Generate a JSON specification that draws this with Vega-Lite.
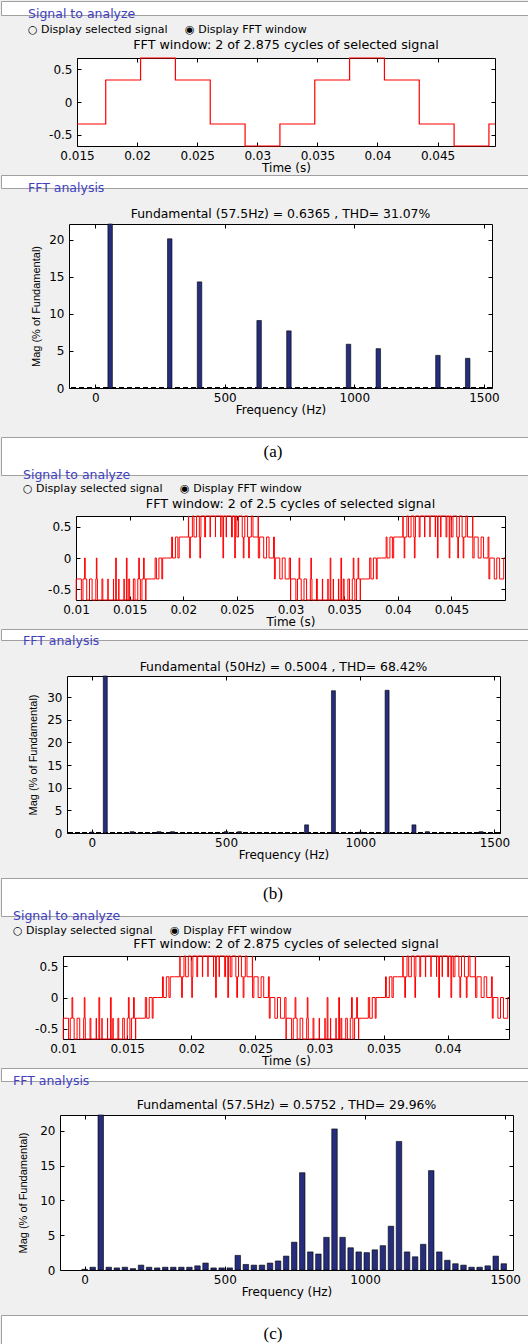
{
"$schema": "https://vega.github.io/schema/vega-lite/v6.json",
"padding": 0,
"background": "#f0f0f0",
"columns": 1,
"align": "none",
"spacing": 0,
"config": {
 "title": {"font": "DejaVu Sans", "fontWeight": "normal", "color": "#000000", "subtitleFont": "DejaVu Sans"},
 "axis": {"domain": false, "grid": false, "tickColor": "#000000", "tickSize": -4, "labelFont": "DejaVu Sans", "labelFontSize": 12, "labelColor": "#000000", "labelPadding": 8, "labelFlush": false, "labelOverlap": false, "titleFont": "DejaVu Sans", "titleFontSize": 12, "titleFontWeight": "normal", "titleColor": "#000000", "titlePadding": 1},
 "axisY": {"labelPadding": 9}
},
"concat": [
 {"width": 544, "height": 14, "view": {"fill": "white", "stroke": "#a0a0a0"}, "data": {"values": [{"label": ""}]}, "mark": {"type": "text"}, "encoding": {"text": {"field": "label"}},
  "title": {"text": "Signal to analyze", "subtitle": "○ Display selected signal\u00a0\u00a0\u00a0\u00a0 ◉ Display FFT window", "orient": "bottom", "anchor": "start", "frame": "group", "offset": -7, "dx": 27, "fontSize": 12.5, "color": "#4040c0", "subtitleFontSize": 11, "subtitleColor": "#000000", "subtitlePadding": 3}},
 {"spacing": 0, "hconcat": [
 {"width": 45, "height": 1, "view": {"fill": null, "stroke": null}, "data": {"values": [{"label": ""}]}, "mark": {"type": "text"}, "encoding": {"text": {"field": "label"}}},
 {"width": 418, "height": 88, "view": {"fill": "white", "stroke": "#000000"},
  "title": {"text": ["", "FFT window: 2 of 2.875 cycles of selected signal"], "lineHeight": 3, "fontSize": 12.7, "offset": 4, "frame": "group"},
  "data": {"values": [
   {"t":0.015,"v":-0.3333},{"t":0.017391,"v":0.3333},{"t":0.02029,"v":0.6667},{"t":0.023188,"v":0.3333},{"t":0.026087,"v":-0.3333},{"t":0.028986,"v":-0.6667},{"t":0.031884,"v":-0.3333},{"t":0.034783,"v":0.3333},{"t":0.037681,"v":0.6667},{"t":0.04058,"v":0.3333},{"t":0.043478,"v":-0.3333},{"t":0.046377,"v":-0.6667},{"t":0.049275,"v":-0.3333},{"t":0.04978,"v":-0.3333}]},
  "layer": [
   {"mark": {"type": "line", "interpolate": "step-after", "color": "#ff0000", "strokeWidth": 1.2, "clip": false},
    "encoding": {"x": {"field": "t", "type": "quantitative", "scale": {"domain": [0.015, 0.04978], "nice": false, "zero": false}, "axis": {"values": [0.015,0.02,0.025,0.03,0.035,0.04,0.045], "format": ".3~f", "title": "Time (s)"}},
                 "y": {"field": "v", "type": "quantitative", "scale": {"domain": [-0.6667, 0.6667], "nice": false, "zero": false}, "axis": {"values": [-0.5,0,0.5], "format": ".1~f", "labelExpr": "replace(datum.label, '\u2212', '-')", "title": null, "minExtent": 30, "maxExtent": 30}}}},
   {"mark": {"type": "line", "opacity": 0},
    "encoding": {"x": {"field": "t", "type": "quantitative", "axis": {"orient": "top", "values": [0.015,0.02,0.025,0.03,0.035,0.04,0.045], "labels": false, "title": null, "minExtent": 0, "maxExtent": 0}},
                 "y": {"field": "v", "type": "quantitative", "axis": {"orient": "right", "values": [-0.5,0,0.5], "labels": false, "title": null, "minExtent": 0, "maxExtent": 0}}}}
  ],
  "resolve": {"axis": {"x": "independent", "y": "independent"}}}]},
 {"width": 544, "height": 13, "view": {"fill": "white", "stroke": "#a0a0a0"}, "data": {"values": [{"label": ""}]}, "mark": {"type": "text"}, "encoding": {"text": {"field": "label"}},
  "title": {"text": "FFT analysis", "orient": "bottom", "anchor": "start", "frame": "group", "offset": -6, "dx": 27, "fontSize": 12.5, "color": "#4040c0"}},
 {"spacing": 0, "hconcat": [
 {"width": 22, "height": 1, "view": {"fill": null, "stroke": null}, "data": {"values": [{"label": ""}]}, "mark": {"type": "text"}, "encoding": {"text": {"field": "label"}}},
 {"width": 423, "height": 164, "view": {"fill": "white", "stroke": "#000000"},
  "title": {"text": ["", "Fundamental (57.5Hz) = 0.6365 , THD= 31.07%"], "lineHeight": 12, "fontSize": 12.4, "offset": 1, "frame": "group"},
  "data": {"values": [
   {"f":57.5,"m":100},{"f":287.5,"m":20.1},{"f":402.5,"m":14.3},{"f":632.5,"m":9.1},{"f":747.5,"m":7.7},{"f":977.5,"m":5.9},{"f":1092.5,"m":5.3},{"f":1322.5,"m":4.4},{"f":1437.5,"m":4.0}]},
  "layer": [
   {"mark": {"type": "rule", "strokeDash": [5, 3], "strokeWidth": 1.5, "color": "#000000"}, "encoding": {"y": {"datum": 0, "axis": null}}},
   {"mark": {"type": "bar", "width": 4.5, "color": "#252d7c", "stroke": "#000000", "strokeWidth": 0.6},
    "encoding": {"x": {"field": "f", "type": "quantitative", "scale": {"domain": [-82, 1512], "nice": false, "zero": false}, "axis": {"values": [0,500,1000,1500], "format": "d", "title": "Frequency (Hz)"}},
                 "y": {"field": "m", "type": "quantitative", "scale": {"domain": [0, 22.1], "nice": false, "clamp": true}, "axis": {"values": [0,5,10,15,20], "title": "Mag (% of Fundamental)", "titleFont": "Liberation Sans", "titleFontSize": 11, "titleX": -27.5, "minExtent": 45, "maxExtent": 45}}}},
   {"mark": {"type": "point", "opacity": 0},
    "encoding": {"x": {"field": "f", "type": "quantitative", "axis": {"orient": "top", "values": [0,500,1000,1500], "labels": false, "title": null, "minExtent": 0, "maxExtent": 0}},
                 "y": {"field": "m", "type": "quantitative", "axis": {"orient": "right", "values": [0,5,10,15,20], "labels": false, "title": null, "minExtent": 0, "maxExtent": 0}}}}
  ],
  "resolve": {"axis": {"x": "independent", "y": "independent"}}}]},
 {"width": 10, "height": 20, "view": {"fill": null, "stroke": null}, "data": {"values": [{"label": ""}]}, "mark": {"type": "text"}, "encoding": {"text": {"field": "label"}}},
 {"width": 544, "height": 38, "view": {"fill": "white", "stroke": "#a0a0a0"}, "data": {"values": [{"label": "(a)"}]}, "mark": {"type": "text", "font": "Liberation Serif", "fontSize": 17, "dy": -4}, "encoding": {"text": {"field": "label"}},
  "title": {"text": "Signal to analyze", "subtitle": "○ Display selected signal\u00a0\u00a0\u00a0\u00a0 ◉ Display FFT window", "orient": "bottom", "anchor": "start", "frame": "group", "offset": -6, "dx": 22, "fontSize": 12.5, "color": "#4040c0", "subtitleFontSize": 11, "subtitleColor": "#000000", "subtitlePadding": 1}},
 {"spacing": 0, "hconcat": [
 {"width": 44, "height": 1, "view": {"fill": null, "stroke": null}, "data": {"values": [{"label": ""}]}, "mark": {"type": "text"}, "encoding": {"text": {"field": "label"}}},
 {"width": 429, "height": 84, "view": {"fill": "white", "stroke": "#000000"},
  "title": {"text": ["", "FFT window: 2 of 2.5 cycles of selected signal"], "lineHeight": 3, "fontSize": 12.7, "offset": 3, "frame": "group"},
  "data": {"values": [
   {"t":0.01,"v":-0.667},{"t":0.01002,"v":-0.333},
   {"t":0.0105,"v":-0.667},{"t":0.01065,"v":-0.333},{"t":0.0108,"v":0},{"t":0.01086,"v":-0.333},
   {"t":0.011,"v":-0.667},{"t":0.01126,"v":-0.333},
   {"t":0.0115,"v":-0.667},{"t":0.01185,"v":-0.333},{"t":0.0119,"v":0},{"t":0.01195,"v":-0.333},
   {"t":0.012,"v":-0.667},{"t":0.01242,"v":-0.333},
   {"t":0.0125,"v":-0.667},{"t":0.01297,"v":-0.333},
   {"t":0.013,"v":-0.667},{"t":0.01349,"v":-0.333},
   {"t":0.0135,"v":-0.667},{"t":0.0137,"v":0},{"t":0.01376,"v":-0.667},{"t":0.01399,"v":-0.333},
   {"t":0.014,"v":-0.667},{"t":0.01447,"v":-0.333},
   {"t":0.0145,"v":-0.667},{"t":0.0147,"v":0},{"t":0.01476,"v":-0.667},{"t":0.01492,"v":-0.333},
   {"t":0.015,"v":-0.667},{"t":0.01535,"v":-0.333},
   {"t":0.0155,"v":-0.667},{"t":0.01576,"v":-0.333},{"t":0.01585,"v":0},{"t":0.01591,"v":-0.333},
   {"t":0.016,"v":-0.667},{"t":0.01615,"v":-0.333},{"t":0.0163,"v":0},{"t":0.01636,"v":-0.333},
   {"t":0.0165,"v":-0.667},{"t":0.01652,"v":-0.333},
   {"t":0.017,"v":-0.333},{"t":0.01738,"v":0},
   {"t":0.0175,"v":-0.333},{"t":0.01773,"v":0},
   {"t":0.018,"v":-0.333},{"t":0.01808,"v":0},
   {"t":0.0185,"v":0},{"t":0.01892,"v":0.333},
   {"t":0.019,"v":0},{"t":0.01927,"v":0.333},
   {"t":0.0195,"v":0},{"t":0.01962,"v":0.333},
   {"t":0.02,"v":0.333},{"t":0.02048,"v":0.667},
   {"t":0.0205,"v":0.333},{"t":0.0206,"v":0},{"t":0.02066,"v":0.333},{"t":0.02085,"v":0.667},
   {"t":0.021,"v":0.333},{"t":0.02124,"v":0.667},
   {"t":0.0215,"v":0.333},{"t":0.02155,"v":0},{"t":0.02161,"v":0.333},{"t":0.02165,"v":0.667},
   {"t":0.022,"v":0.333},{"t":0.02208,"v":0.667},
   {"t":0.0225,"v":0.333},{"t":0.02253,"v":0.667},
   {"t":0.023,"v":0.333},{"t":0.02301,"v":0.667},
   {"t":0.0235,"v":0.333},{"t":0.02351,"v":0.667},{"t":0.0237,"v":0},{"t":0.02376,"v":0.667},
   {"t":0.024,"v":0.333},{"t":0.02403,"v":0.667},
   {"t":0.0245,"v":0.333},{"t":0.02458,"v":0.667},{"t":0.0248,"v":0},{"t":0.02486,"v":0.667},
   {"t":0.025,"v":0.333},{"t":0.02515,"v":0.667},
   {"t":0.0255,"v":0.333},{"t":0.0256,"v":0},{"t":0.02566,"v":0.333},{"t":0.02574,"v":0.667},
   {"t":0.026,"v":0.333},{"t":0.0261,"v":0},{"t":0.02616,"v":0.333},{"t":0.02635,"v":0.667},
   {"t":0.0265,"v":0.333},{"t":0.02698,"v":0.667},
   {"t":0.027,"v":0},{"t":0.02712,"v":0.333},
   {"t":0.0275,"v":0},{"t":0.02777,"v":0.333},
   {"t":0.028,"v":0},{"t":0.02842,"v":0.333},
   {"t":0.0285,"v":-0.333},{"t":0.02858,"v":0},
   {"t":0.029,"v":-0.333},{"t":0.02923,"v":0},
   {"t":0.0295,"v":-0.333},{"t":0.02988,"v":0},
   {"t":0.03,"v":-0.667},{"t":0.03002,"v":-0.333},
   {"t":0.0305,"v":-0.667},{"t":0.03065,"v":-0.333},{"t":0.0308,"v":0},{"t":0.03086,"v":-0.333},
   {"t":0.031,"v":-0.667},{"t":0.03126,"v":-0.333},
   {"t":0.0315,"v":-0.667},{"t":0.03185,"v":-0.333},{"t":0.0319,"v":0},{"t":0.03195,"v":-0.333},
   {"t":0.032,"v":-0.667},{"t":0.03242,"v":-0.333},
   {"t":0.0325,"v":-0.667},{"t":0.03297,"v":-0.333},
   {"t":0.033,"v":-0.667},{"t":0.03349,"v":-0.333},
   {"t":0.0335,"v":-0.667},{"t":0.0337,"v":0},{"t":0.03376,"v":-0.667},{"t":0.03399,"v":-0.333},
   {"t":0.034,"v":-0.667},{"t":0.03447,"v":-0.333},
   {"t":0.0345,"v":-0.667},{"t":0.0347,"v":0},{"t":0.03476,"v":-0.667},{"t":0.03492,"v":-0.333},
   {"t":0.035,"v":-0.667},{"t":0.03535,"v":-0.333},
   {"t":0.0355,"v":-0.667},{"t":0.03576,"v":-0.333},{"t":0.03585,"v":0},{"t":0.03591,"v":-0.333},
   {"t":0.036,"v":-0.667},{"t":0.03615,"v":-0.333},{"t":0.0363,"v":0},{"t":0.03636,"v":-0.333},
   {"t":0.0365,"v":-0.667},{"t":0.03652,"v":-0.333},
   {"t":0.037,"v":-0.333},{"t":0.03738,"v":0},
   {"t":0.0375,"v":-0.333},{"t":0.03773,"v":0},
   {"t":0.038,"v":-0.333},{"t":0.03808,"v":0},
   {"t":0.0385,"v":0},{"t":0.03892,"v":0.333},
   {"t":0.039,"v":0},{"t":0.03927,"v":0.333},
   {"t":0.0395,"v":0},{"t":0.03962,"v":0.333},
   {"t":0.04,"v":0.333},{"t":0.04048,"v":0.667},
   {"t":0.0405,"v":0.333},{"t":0.0406,"v":0},{"t":0.04066,"v":0.333},{"t":0.04085,"v":0.667},
   {"t":0.041,"v":0.333},{"t":0.04124,"v":0.667},
   {"t":0.0415,"v":0.333},{"t":0.04155,"v":0},{"t":0.04161,"v":0.333},{"t":0.04165,"v":0.667},
   {"t":0.042,"v":0.333},{"t":0.04208,"v":0.667},
   {"t":0.0425,"v":0.333},{"t":0.04253,"v":0.667},
   {"t":0.043,"v":0.333},{"t":0.04301,"v":0.667},
   {"t":0.0435,"v":0.333},{"t":0.04351,"v":0.667},{"t":0.0437,"v":0},{"t":0.04376,"v":0.667},
   {"t":0.044,"v":0.333},{"t":0.04403,"v":0.667},
   {"t":0.0445,"v":0.333},{"t":0.04458,"v":0.667},{"t":0.0448,"v":0},{"t":0.04486,"v":0.667},
   {"t":0.045,"v":0.333},{"t":0.04515,"v":0.667},
   {"t":0.0455,"v":0.333},{"t":0.0456,"v":0},{"t":0.04566,"v":0.333},{"t":0.04574,"v":0.667},
   {"t":0.046,"v":0.333},{"t":0.0461,"v":0},{"t":0.04616,"v":0.333},{"t":0.04635,"v":0.667},
   {"t":0.0465,"v":0.333},{"t":0.04698,"v":0.667},
   {"t":0.047,"v":0},{"t":0.04712,"v":0.333},
   {"t":0.0475,"v":0},{"t":0.04777,"v":0.333},
   {"t":0.048,"v":0},{"t":0.04842,"v":0.333},
   {"t":0.0485,"v":-0.333},{"t":0.04858,"v":0},
   {"t":0.049,"v":-0.333},{"t":0.04923,"v":0},
   {"t":0.0495,"v":-0.333},{"t":0.04988,"v":0},
   {"t":0.05,"v":0}]},
  "layer": [
   {"mark": {"type": "line", "interpolate": "step-after", "color": "#ff0000", "strokeWidth": 1, "clip": false},
    "encoding": {"x": {"field": "t", "type": "quantitative", "scale": {"domain": [0.01, 0.05], "nice": false, "zero": false}, "axis": {"values": [0.01,0.015,0.02,0.025,0.03,0.035,0.04,0.045], "format": ".3~f", "title": "Time (s)"}},
                 "y": {"field": "v", "type": "quantitative", "scale": {"domain": [-0.667, 0.667], "nice": false, "zero": false}, "axis": {"values": [-0.5,0,0.5], "format": ".1~f", "labelExpr": "replace(datum.label, '\u2212', '-')", "title": null, "minExtent": 30, "maxExtent": 30}}}},
   {"mark": {"type": "line", "opacity": 0},
    "encoding": {"x": {"field": "t", "type": "quantitative", "axis": {"orient": "top", "values": [0.01,0.015,0.02,0.025,0.03,0.035,0.04,0.045], "labels": false, "title": null, "minExtent": 0, "maxExtent": 0}},
                 "y": {"field": "v", "type": "quantitative", "axis": {"orient": "right", "values": [-0.5,0,0.5], "labels": false, "title": null, "minExtent": 0, "maxExtent": 0}}}}
  ],
  "resolve": {"axis": {"x": "independent", "y": "independent"}}}]},
 {"width": 544, "height": 11, "view": {"fill": "white", "stroke": "#a0a0a0"}, "data": {"values": [{"label": ""}]}, "mark": {"type": "text"}, "encoding": {"text": {"field": "label"}},
  "title": {"text": "FFT analysis", "orient": "bottom", "anchor": "start", "frame": "group", "offset": -5, "dx": 22, "fontSize": 12.5, "color": "#4040c0"}},
 {"spacing": 0, "hconcat": [
 {"width": 20, "height": 1, "view": {"fill": null, "stroke": null}, "data": {"values": [{"label": ""}]}, "mark": {"type": "text"}, "encoding": {"text": {"field": "label"}}},
 {"width": 433, "height": 157, "view": {"fill": "white", "stroke": "#000000"},
  "title": {"text": ["", "Fundamental (50Hz) = 0.5004 , THD= 68.42%"], "lineHeight": 12, "fontSize": 12.4, "offset": 0, "frame": "group"},
  "data": {"values": [
   {"f":0,"m":0.2},{"f":50,"m":100},{"f":150,"m":0.3},{"f":250,"m":0.3},{"f":300,"m":0.3},{"f":500,"m":0.3},{"f":550,"m":0.3},{"f":800,"m":1.8},{"f":900,"m":31.4},{"f":1000,"m":0.2},{"f":1100,"m":31.5},{"f":1200,"m":1.8},{"f":1250,"m":0.3},{"f":1450,"m":0.3}]},
  "layer": [
   {"mark": {"type": "rule", "strokeDash": [5, 2], "strokeWidth": 1.5, "color": "#000000"}, "encoding": {"y": {"datum": 0, "axis": null}}},
   {"mark": {"type": "bar", "width": 4, "color": "#252d7c", "stroke": "#000000", "strokeWidth": 0.6},
    "encoding": {"x": {"field": "f", "type": "quantitative", "scale": {"domain": [-74, 1502], "nice": false, "zero": false}, "axis": {"values": [0,500,1000,1500], "format": "d", "title": "Frequency (Hz)"}},
                 "y": {"field": "m", "type": "quantitative", "scale": {"domain": [0, 34.65], "nice": false, "clamp": true}, "axis": {"values": [0,5,10,15,20,25,30], "title": "Mag (% of Fundamental)", "titleFont": "Liberation Sans", "titleFontSize": 11, "titleX": -29, "minExtent": 45, "maxExtent": 45}}}},
   {"mark": {"type": "point", "opacity": 0},
    "encoding": {"x": {"field": "f", "type": "quantitative", "axis": {"orient": "top", "values": [0,500,1000,1500], "labels": false, "title": null, "minExtent": 0, "maxExtent": 0}},
                 "y": {"field": "m", "type": "quantitative", "axis": {"orient": "right", "values": [0,5,10,15,20,25,30], "labels": false, "title": null, "minExtent": 0, "maxExtent": 0}}}}
  ],
  "resolve": {"axis": {"x": "independent", "y": "independent"}}}]},
 {"width": 10, "height": 16, "view": {"fill": null, "stroke": null}, "data": {"values": [{"label": ""}]}, "mark": {"type": "text"}, "encoding": {"text": {"field": "label"}}},
 {"width": 544, "height": 38, "view": {"fill": "white", "stroke": "#a0a0a0"}, "data": {"values": [{"label": "(b)"}]}, "mark": {"type": "text", "font": "Liberation Serif", "fontSize": 17, "dy": -3}, "encoding": {"text": {"field": "label"}},
  "title": {"text": "Signal to analyze", "subtitle": "○ Display selected signal\u00a0\u00a0\u00a0\u00a0 ◉ Display FFT window", "orient": "bottom", "anchor": "start", "frame": "group", "offset": -6, "dx": 12, "fontSize": 12.5, "color": "#4040c0", "subtitleFontSize": 11, "subtitleColor": "#000000", "subtitlePadding": 2}},
 {"spacing": 0, "hconcat": [
 {"width": 31, "height": 1, "view": {"fill": null, "stroke": null}, "data": {"values": [{"label": ""}]}, "mark": {"type": "text"}, "encoding": {"text": {"field": "label"}}},
 {"width": 446, "height": 83, "view": {"fill": "white", "stroke": "#000000"},
  "title": {"text": ["", "FFT window: 2 of 2.875 cycles of selected signal"], "lineHeight": 1, "fontSize": 12.7, "offset": 3, "frame": "group"},
  "data": {"values": [
   {"t":0.01,"v":-0.667},{"t":0.01002,"v":-0.333},
   {"t":0.010435,"v":-0.667},{"t":0.010565,"v":-0.333},{"t":0.0107,"v":0},{"t":0.01076,"v":-0.333},
   {"t":0.01087,"v":-0.667},{"t":0.011097,"v":-0.333},
   {"t":0.011304,"v":-0.667},{"t":0.011611,"v":-0.333},{"t":0.01166,"v":0},{"t":0.01171,"v":-0.333},
   {"t":0.011739,"v":-0.667},{"t":0.012108,"v":-0.333},
   {"t":0.012174,"v":-0.667},{"t":0.012585,"v":-0.333},
   {"t":0.012609,"v":-0.667},{"t":0.0128,"v":0},{"t":0.01286,"v":-0.667},{"t":0.013041,"v":-0.333},
   {"t":0.013044,"v":-0.667},{"t":0.013476,"v":-0.333},
   {"t":0.013478,"v":-0.667},{"t":0.0137,"v":0},{"t":0.01376,"v":-0.667},{"t":0.013889,"v":-0.333},
   {"t":0.013913,"v":-0.667},{"t":0.014282,"v":-0.333},
   {"t":0.014348,"v":-0.667},{"t":0.014655,"v":-0.333},
   {"t":0.014783,"v":-0.667},{"t":0.01501,"v":-0.333},{"t":0.0151,"v":0},{"t":0.01516,"v":-0.333},
   {"t":0.015217,"v":-0.667},{"t":0.015347,"v":-0.333},{"t":0.0155,"v":0},{"t":0.01556,"v":-0.333},
   {"t":0.015652,"v":-0.667},{"t":0.015672,"v":-0.333},
   {"t":0.016087,"v":-0.333},{"t":0.01642,"v":0},
   {"t":0.016522,"v":-0.333},{"t":0.016725,"v":0},
   {"t":0.016957,"v":-0.333},{"t":0.017025,"v":0},
   {"t":0.017391,"v":0},{"t":0.017758,"v":0.333},
   {"t":0.017826,"v":0},{"t":0.018058,"v":0.333},
   {"t":0.018261,"v":0},{"t":0.018363,"v":0.333},
   {"t":0.018696,"v":0.333},{"t":0.019111,"v":0.667},
   {"t":0.01913,"v":0.333},{"t":0.01925,"v":0},{"t":0.01931,"v":0.333},{"t":0.019435,"v":0.667},
   {"t":0.019565,"v":0.333},{"t":0.019773,"v":0.667},
   {"t":0.02,"v":0.333},{"t":0.02004,"v":0},{"t":0.02009,"v":0.333},{"t":0.020128,"v":0.667},
   {"t":0.020435,"v":0.333},{"t":0.020501,"v":0.667},
   {"t":0.02087,"v":0.333},{"t":0.020894,"v":0.667},
   {"t":0.021304,"v":0.333},{"t":0.021307,"v":0.667},
   {"t":0.021739,"v":0.333},{"t":0.021742,"v":0.667},{"t":0.0219,"v":0},{"t":0.02196,"v":0.667},
   {"t":0.022174,"v":0.333},{"t":0.022198,"v":0.667},
   {"t":0.022609,"v":0.333},{"t":0.022675,"v":0.667},{"t":0.02285,"v":0},{"t":0.02291,"v":0.667},
   {"t":0.023043,"v":0.333},{"t":0.023171,"v":0.667},
   {"t":0.023478,"v":0.333},{"t":0.02355,"v":0},{"t":0.02361,"v":0.333},{"t":0.023686,"v":0.667},
   {"t":0.023913,"v":0.333},{"t":0.02405,"v":0},{"t":0.02411,"v":0.333},{"t":0.024218,"v":0.667},
   {"t":0.024348,"v":0.333},{"t":0.024763,"v":0.667},
   {"t":0.024783,"v":0},{"t":0.024885,"v":0.333},
   {"t":0.025217,"v":0},{"t":0.025449,"v":0.333},
   {"t":0.025652,"v":0},{"t":0.026019,"v":0.333},
   {"t":0.026087,"v":-0.333},{"t":0.026155,"v":0},
   {"t":0.026522,"v":-0.333},{"t":0.026725,"v":0},
   {"t":0.026957,"v":-0.333},{"t":0.02729,"v":0},
   {"t":0.027391,"v":-0.667},{"t":0.027411,"v":-0.333},
   {"t":0.027826,"v":-0.667},{"t":0.027956,"v":-0.333},{"t":0.0281,"v":0},{"t":0.02816,"v":-0.333},
   {"t":0.028261,"v":-0.667},{"t":0.028488,"v":-0.333},
   {"t":0.028696,"v":-0.667},{"t":0.029003,"v":-0.333},{"t":0.02905,"v":0},{"t":0.0291,"v":-0.333},
   {"t":0.02913,"v":-0.667},{"t":0.029499,"v":-0.333},
   {"t":0.029565,"v":-0.667},{"t":0.029976,"v":-0.333},
   {"t":0.03,"v":-0.667},{"t":0.030432,"v":-0.333},
   {"t":0.030435,"v":-0.667},{"t":0.0306,"v":0},{"t":0.03066,"v":-0.667},{"t":0.030867,"v":-0.333},
   {"t":0.03087,"v":-0.667},{"t":0.031281,"v":-0.333},
   {"t":0.031304,"v":-0.667},{"t":0.0315,"v":0},{"t":0.03156,"v":-0.667},{"t":0.031673,"v":-0.333},
   {"t":0.031739,"v":-0.667},{"t":0.032046,"v":-0.333},
   {"t":0.032174,"v":-0.667},{"t":0.032401,"v":-0.333},{"t":0.0325,"v":0},{"t":0.03256,"v":-0.333},
   {"t":0.032609,"v":-0.667},{"t":0.032739,"v":-0.333},{"t":0.0329,"v":0},{"t":0.03296,"v":-0.333},
   {"t":0.033043,"v":-0.667},{"t":0.033063,"v":-0.333},
   {"t":0.033478,"v":-0.333},{"t":0.033811,"v":0},
   {"t":0.033913,"v":-0.333},{"t":0.034116,"v":0},
   {"t":0.034348,"v":-0.333},{"t":0.034416,"v":0},
   {"t":0.034783,"v":0},{"t":0.03515,"v":0.333},
   {"t":0.035217,"v":0},{"t":0.035449,"v":0.333},
   {"t":0.035652,"v":0},{"t":0.035754,"v":0.333},
   {"t":0.036087,"v":0.333},{"t":0.036502,"v":0.667},
   {"t":0.036522,"v":0.333},{"t":0.03665,"v":0},{"t":0.03671,"v":0.333},{"t":0.036827,"v":0.667},
   {"t":0.036957,"v":0.333},{"t":0.037165,"v":0.667},
   {"t":0.037391,"v":0.333},{"t":0.03744,"v":0},{"t":0.03749,"v":0.333},{"t":0.037519,"v":0.667},
   {"t":0.037826,"v":0.333},{"t":0.037892,"v":0.667},
   {"t":0.038261,"v":0.333},{"t":0.038285,"v":0.667},
   {"t":0.038696,"v":0.333},{"t":0.038699,"v":0.667},
   {"t":0.03913,"v":0.333},{"t":0.039133,"v":0.667},{"t":0.0393,"v":0},{"t":0.03936,"v":0.667},
   {"t":0.039565,"v":0.333},{"t":0.039589,"v":0.667},
   {"t":0.04,"v":0.333},{"t":0.040066,"v":0.667},{"t":0.04025,"v":0},{"t":0.04031,"v":0.667},
   {"t":0.040435,"v":0.333},{"t":0.040563,"v":0.667},
   {"t":0.04087,"v":0.333},{"t":0.04095,"v":0},{"t":0.04101,"v":0.333},{"t":0.041078,"v":0.667},
   {"t":0.041304,"v":0.333},{"t":0.04145,"v":0},{"t":0.04151,"v":0.333},{"t":0.041609,"v":0.667},
   {"t":0.041739,"v":0.333},{"t":0.042154,"v":0.667},
   {"t":0.042174,"v":0},{"t":0.042276,"v":0.333},
   {"t":0.042609,"v":0},{"t":0.042841,"v":0.333},
   {"t":0.043043,"v":0},{"t":0.04341,"v":0.333},
   {"t":0.043478,"v":-0.333},{"t":0.043546,"v":0},
   {"t":0.043913,"v":-0.333},{"t":0.044116,"v":0},
   {"t":0.044348,"v":-0.333},{"t":0.044681,"v":0},
   {"t":0.04478,"v":0}]},
  "layer": [
   {"mark": {"type": "line", "interpolate": "step-after", "color": "#ff0000", "strokeWidth": 1, "clip": false},
    "encoding": {"x": {"field": "t", "type": "quantitative", "scale": {"domain": [0.01, 0.04478], "nice": false, "zero": false}, "axis": {"values": [0.01,0.015,0.02,0.025,0.03,0.035,0.04], "format": ".3~f", "title": "Time (s)"}},
                 "y": {"field": "v", "type": "quantitative", "scale": {"domain": [-0.667, 0.667], "nice": false, "zero": false}, "axis": {"values": [-0.5,0,0.5], "format": ".1~f", "labelExpr": "replace(datum.label, '\u2212', '-')", "title": null, "minExtent": 30, "maxExtent": 30}}}},
   {"mark": {"type": "line", "opacity": 0},
    "encoding": {"x": {"field": "t", "type": "quantitative", "axis": {"orient": "top", "values": [0.01,0.015,0.02,0.025,0.03,0.035,0.04], "labels": false, "title": null, "minExtent": 0, "maxExtent": 0}},
                 "y": {"field": "v", "type": "quantitative", "axis": {"orient": "right", "values": [-0.5,0,0.5], "labels": false, "title": null, "minExtent": 0, "maxExtent": 0}}}}
  ],
  "resolve": {"axis": {"x": "independent", "y": "independent"}}}]},
 {"width": 544, "height": 13, "view": {"fill": "white", "stroke": "#a0a0a0"}, "data": {"values": [{"label": ""}]}, "mark": {"type": "text"}, "encoding": {"text": {"field": "label"}},
  "title": {"text": "FFT analysis", "orient": "bottom", "anchor": "start", "frame": "group", "offset": -6, "dx": 12, "fontSize": 12.5, "color": "#4040c0"}},
 {"spacing": 0, "hconcat": [
 {"width": 10, "height": 1, "view": {"fill": null, "stroke": null}, "data": {"values": [{"label": ""}]}, "mark": {"type": "text"}, "encoding": {"text": {"field": "label"}}},
 {"width": 453, "height": 155, "view": {"fill": "white", "stroke": "#000000"},
  "title": {"text": ["", "Fundamental (57.5Hz) = 0.5752 , THD= 29.96%"], "lineHeight": 10, "fontSize": 12.4, "offset": 1, "frame": "group"},
  "data": {"values": [
   {"f":0,"m":0.1},{"f":28.75,"m":0.4},{"f":57.5,"m":100},{"f":86.25,"m":0.4},{"f":115,"m":0.3},{"f":143.75,"m":0.4},{"f":172.5,"m":0.2},{"f":201.25,"m":0.7},{"f":230,"m":0.4},{"f":258.75,"m":0.3},{"f":287.5,"m":0.4},{"f":316.25,"m":0.4},{"f":345,"m":0.4},{"f":373.75,"m":0.4},{"f":402.5,"m":0.6},{"f":431.25,"m":1.0},{"f":460,"m":0.3},{"f":488.75,"m":0.3},{"f":517.5,"m":0.3},{"f":546.25,"m":2.1},{"f":575,"m":0.8},{"f":603.75,"m":0.7},{"f":632.5,"m":0.7},{"f":661.25,"m":1.0},{"f":690,"m":1.3},{"f":718.75,"m":2.0},{"f":747.5,"m":4.0},{"f":776.25,"m":14.0},{"f":805,"m":2.6},{"f":833.75,"m":2.3},{"f":862.5,"m":4.7},{"f":891.25,"m":20.3},{"f":920,"m":4.7},{"f":948.75,"m":3.2},{"f":977.5,"m":2.6},{"f":1006.25,"m":2.5},{"f":1035,"m":2.9},{"f":1063.75,"m":3.5},{"f":1092.5,"m":6.3},{"f":1121.25,"m":18.5},{"f":1150,"m":2.6},{"f":1178.75,"m":1.9},{"f":1207.5,"m":3.7},{"f":1236.25,"m":14.3},{"f":1265,"m":2.6},{"f":1293.75,"m":1.4},{"f":1322.5,"m":0.9},{"f":1351.25,"m":0.7},{"f":1380,"m":0.4},{"f":1408.75,"m":0.4},{"f":1437.5,"m":0.6},{"f":1466.25,"m":2.0},{"f":1495,"m":0.9}]},
  "layer": [
   {"mark": {"type": "bar", "width": 5.5, "color": "#252d7c", "stroke": "#000000", "strokeWidth": 0.6},
    "encoding": {"x": {"field": "f", "type": "quantitative", "scale": {"domain": [-70, 1510], "nice": false, "zero": false}, "axis": {"values": [0,500,1000,1500], "format": "d", "title": "Frequency (Hz)"}},
                 "y": {"field": "m", "type": "quantitative", "scale": {"domain": [0, 22.3], "nice": false, "clamp": true}, "axis": {"values": [0,5,10,15,20], "title": "Mag (% of Fundamental)", "titleFont": "Liberation Sans", "titleFontSize": 11, "titleX": -32, "minExtent": 48, "maxExtent": 48}}}},
   {"mark": {"type": "point", "opacity": 0},
    "encoding": {"x": {"field": "f", "type": "quantitative", "axis": {"orient": "top", "values": [0,500,1000,1500], "labels": false, "title": null, "minExtent": 0, "maxExtent": 0}},
                 "y": {"field": "m", "type": "quantitative", "axis": {"orient": "right", "values": [0,5,10,15,20], "labels": false, "title": null, "minExtent": 0, "maxExtent": 0}}}}
  ],
  "resolve": {"axis": {"x": "independent", "y": "independent"}}}]},
 {"width": 10, "height": 16, "view": {"fill": null, "stroke": null}, "data": {"values": [{"label": ""}]}, "mark": {"type": "text"}, "encoding": {"text": {"field": "label"}}},
 {"width": 544, "height": 29, "view": {"fill": "white", "stroke": "#a0a0a0"}, "data": {"values": [{"label": "(c)"}]}, "mark": {"type": "text", "font": "Liberation Serif", "fontSize": 17, "dy": 4}, "encoding": {"text": {"field": "label"}}}
]
}
